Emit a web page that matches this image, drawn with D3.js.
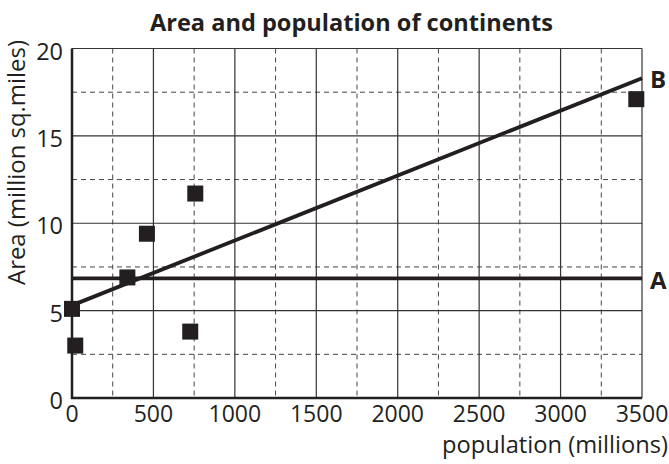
<!DOCTYPE html>
<html><head><meta charset="utf-8">
<script src="https://cdn.jsdelivr.net/npm/d3@7"></script>
<style>body{margin:0;background:#fff}svg{display:block}</style>
</head><body>
<script>
const population = [0, 20, 340, 460, 757, 726, 3465];
const area = [5.1, 3.0, 6.9, 9.4, 11.7, 3.8, 17.1];
const lineA = [[0, 6.85], [3500, 6.85]];
const lineB = [[0, 5.3], [3500, 18.3]];
const xTicks = [0, 500, 1000, 1500, 2000, 2500, 3000, 3500];
const yTicks = [0, 5, 10, 15, 20];
const xMinor = [250, 750, 1250, 1750, 2250, 2750, 3250];
const yMinor = [2.5, 7.5, 12.5, 17.5];

const W = 669, H = 464;
const svg = d3.select("body").append("svg").attr("width", W).attr("height", H);
const font = "'Open Sans', sans-serif";
const ink = "#231f20";
const x = d3.scaleLinear().domain([0, 3500]).range([72, 642]);
const y = d3.scaleLinear().domain([0, 20]).range([398, 48.5]);

svg.append("text").attr("x", 351.5).attr("y", 31).attr("text-anchor", "middle")
  .attr("font-family", font).attr("font-weight", "bold").attr("font-size", 23)
  .attr("textLength", 403).attr("lengthAdjust", "spacingAndGlyphs")
  .attr("fill", ink).text("Area and population of continents");

const g = svg.append("g");
g.selectAll(".vx").data(xMinor).join("line").attr("x1", d => x(d)).attr("x2", d => x(d))
  .attr("y1", y(20)).attr("y2", y(0)).attr("stroke", "#444").attr("stroke-width", 1).attr("stroke-dasharray", "5,4");
g.selectAll(".hy").data(yMinor).join("line").attr("y1", d => y(d)).attr("y2", d => y(d))
  .attr("x1", x(0)).attr("x2", x(3500)).attr("stroke", "#444").attr("stroke-width", 1).attr("stroke-dasharray", "5,4");
g.selectAll(".mx").data(xTicks).join("line").attr("x1", d => x(d)).attr("x2", d => x(d))
  .attr("y1", y(20)).attr("y2", y(0)).attr("stroke", "#333").attr("stroke-width", 1.2);
g.selectAll(".my").data(yTicks).join("line").attr("y1", d => y(d)).attr("y2", d => y(d))
  .attr("x1", x(0)).attr("x2", x(3500)).attr("stroke", "#333").attr("stroke-width", 1.2);
svg.append("line").attr("x1", x(0)).attr("x2", x(0)).attr("y1", y(20)).attr("y2", y(0) + 1).attr("stroke", ink).attr("stroke-width", 2.5);
svg.append("line").attr("x1", x(0) - 1).attr("x2", x(3500)).attr("y1", y(0)).attr("y2", y(0)).attr("stroke", ink).attr("stroke-width", 2.5);

svg.selectAll(".xt").data(xTicks).join("text").attr("x", d => x(d)).attr("y", 422)
  .attr("text-anchor", "middle").attr("font-family", font).attr("font-size", 23).attr("fill", ink).text(d => d);
svg.selectAll(".yt").data(yTicks).join("text").attr("x", 63).attr("y", d => y(d) + 11)
  .attr("text-anchor", "end").attr("font-family", font).attr("font-size", 23.5).attr("fill", ink).text(d => d);

svg.append("text").attr("x", 668).attr("y", 453).attr("text-anchor", "end")
  .attr("font-family", font).attr("font-size", 23).attr("textLength", 226).attr("lengthAdjust", "spacingAndGlyphs")
  .attr("fill", ink).text("population (millions)");
svg.append("text").attr("transform", "translate(25,162.5) rotate(-90)").attr("text-anchor", "middle")
  .attr("font-family", font).attr("font-size", 23.5).attr("textLength", 245).attr("lengthAdjust", "spacingAndGlyphs")
  .attr("fill", ink).text("Area (million sq.miles)");

const ln = d3.line().x(d => x(d[0])).y(d => y(d[1]));
svg.append("path").attr("d", ln(lineA)).attr("stroke", ink).attr("stroke-width", 3.8).attr("fill", "none");
svg.append("path").attr("d", ln(lineB)).attr("stroke", ink).attr("stroke-width", 3.8).attr("fill", "none");
svg.append("text").attr("x", 650).attr("y", y(18.3) + 10).attr("font-family", font).attr("font-weight", "bold")
  .attr("font-size", 24).attr("fill", ink).text("B");
svg.append("text").attr("x", 650).attr("y", y(6.85) + 10.5).attr("font-family", font).attr("font-weight", "bold")
  .attr("font-size", 24).attr("fill", ink).text("A");

const s = 16;
svg.selectAll(".pt").data(population.map((p, i) => [p, area[i]])).join("rect")
  .attr("x", d => x(d[0]) - s / 2).attr("y", d => y(d[1]) - s / 2).attr("width", s).attr("height", s)
  .attr("fill", ink);
</script>
</body></html>
